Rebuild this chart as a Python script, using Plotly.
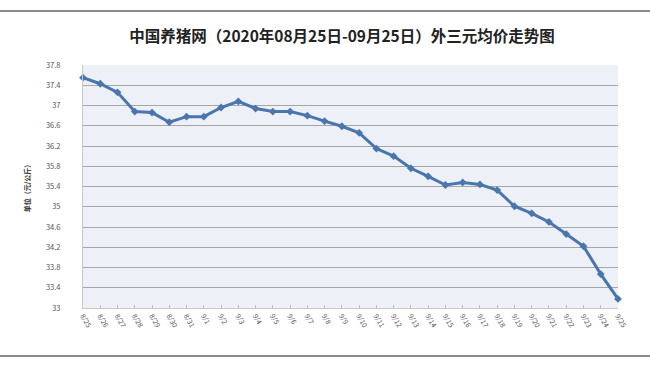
import plotly.graph_objects as go

dates = ["8/25", "8/26", "8/27", "8/28", "8/29", "8/30", "8/31",
         "9/1", "9/2", "9/3", "9/4", "9/5", "9/6", "9/7", "9/8", "9/9", "9/10",
         "9/11", "9/12", "9/13", "9/14", "9/15", "9/16", "9/17", "9/18", "9/19",
         "9/20", "9/21", "9/22", "9/23", "9/24", "9/25"]
prices = [37.55, 37.43, 37.26, 36.88, 36.86, 36.67, 36.78,
          36.78, 36.96, 37.08, 36.94, 36.88, 36.88, 36.80, 36.69, 36.59, 36.46,
          36.15, 36.00, 35.76, 35.60, 35.43, 35.48, 35.44, 35.33, 35.01,
          34.87, 34.70, 34.46, 34.22, 33.67, 33.18]
y_ticks = [33, 33.4, 33.8, 34.2, 34.6, 35, 35.4, 35.8, 36.2, 36.6, 37, 37.4, 37.8]

idx = list(range(len(dates)))

fig = go.Figure()
fig.add_trace(go.Scatter(
    x=idx, y=prices, mode="lines+markers",
    line=dict(color="#4876ad", width=3),
    marker=dict(symbol="diamond", size=6, color="#4876ad"),
    cliponaxis=False, showlegend=False,
))

W, H = 650, 366
l, r, t, b = 83, 32, 65, 58
pw, ph = W - l - r, H - t - b

def px_x(x):
    return (x - l) / pw

def px_y(y):
    return (H - b - y) / ph

fig.update_layout(
    width=W, height=H,
    margin=dict(l=l, r=r, t=t, b=b),
    paper_bgcolor="white",
    plot_bgcolor="#edf0f6",
    font=dict(family="Noto Sans CJK SC, Noto Sans, sans-serif", color="#444"),
    title=dict(text="<b>中国养猪网（2020年08月25日-09月25日）外三元均价走势图</b>",
               x=342 / W, xanchor="center", y=1 - 37 / H, yanchor="middle",
               font=dict(size=15.5, color="#222")),
    xaxis=dict(range=[0, len(dates) - 1], tickmode="array", tickvals=idx, ticktext=dates,
               tickangle=60, tickfont=dict(size=7, color="#555"),
               showgrid=False, zeroline=False, showline=True, linecolor="#c8c8c8",
               ticks="inside", ticklen=3, tickcolor="#bbb"),
    yaxis=dict(range=[33, 37.8], tickmode="array", tickvals=y_ticks,
               ticktext=[f"{v:g}" for v in y_ticks],
               tickfont=dict(size=7.5, color="#555"), ticklabelstandoff=20,
               showgrid=True, gridcolor="#a6a6a6", gridwidth=1,
               zeroline=False, showline=True, linecolor="#c8c8c8",
               title=dict(text="<b>单位（元/公斤）</b>", font=dict(size=7, color="#333"), standoff=14)),
    shapes=[
        dict(type="line", xref="paper", yref="paper", x0=px_x(0), x1=px_x(W),
             y0=px_y(11), y1=px_y(11), line=dict(color="#8a8a8a", width=2)),
        dict(type="line", xref="paper", yref="paper", x0=px_x(0), x1=px_x(W),
             y0=px_y(356), y1=px_y(356), line=dict(color="#8a8a8a", width=2)),
    ],
)

fig.write_html("out.html")
